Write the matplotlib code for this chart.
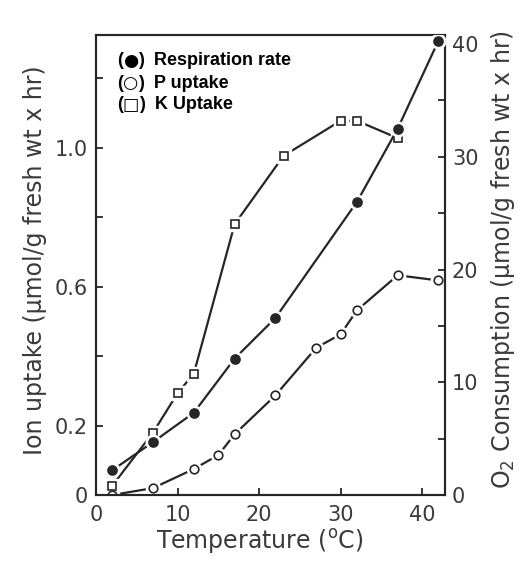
import matplotlib
matplotlib.use("Agg")
import matplotlib.pyplot as plt

resp_temp = [2, 7, 12, 17, 22, 32, 37, 42]
resp_rate = [2.2, 4.7, 7.3, 12.1, 15.7, 26.0, 32.5, 40.3]  # O2 consumption, right axis

p_temp = [2, 7, 12, 15, 17, 22, 27, 30, 32, 37, 42]
p_uptake = [0.0, 0.02, 0.075, 0.115, 0.175, 0.287, 0.424, 0.463, 0.532, 0.633, 0.618]

k_temp = [2, 7, 10, 12, 17, 23, 30, 32, 37]
k_uptake = [0.027, 0.18, 0.293, 0.35, 0.78, 0.977, 1.078, 1.078, 1.028]

x_ticks = [0, 10, 20, 30, 40]
left_ticks = [0, 0.2, 0.4, 0.6, 0.8, 1.0, 1.2]
left_labels = ["0", "0.2", "", "0.6", "", "1.0", ""]
right_ticks = [0, 5, 10, 15, 20, 25, 30, 35, 40]
right_labels = ["0", "", "10", "", "20", "", "30", "", "40"]

legend_symbols = ["●", "○", "□"]
legend_names = ["Respiration rate", "P uptake", "K Uptake"]

INK = "#262626"
TXT = "#3a3a3a"

plt.rcParams["font.family"] = ["DejaVu Sans"]

fig = plt.figure(figsize=(5.22, 5.76), dpi=100)
ax = fig.add_axes([0.1839, 0.1406, 0.6686, 0.7986])
ax2 = ax.twinx()


def draw_series(axis, x, y, marker, filled, ms):
    axis.plot(x, y, color=INK, lw=1.6, zorder=2)
    # white halo so the line stops short of each marker
    axis.plot(x, y, ls="none", marker=marker, ms=ms + 4, mfc="white", mec="white", zorder=3)
    face = INK if filled else "white"
    axis.plot(x, y, ls="none", marker=marker, ms=ms, mfc=face, mec=INK, mew=1.2, zorder=4)


draw_series(ax, k_temp, k_uptake, "s", False, 5.8)
draw_series(ax, p_temp, p_uptake, "o", False, 6.2)
draw_series(ax2, resp_temp, resp_rate, "o", True, 6.5)

ax.set_xlim(0, 42.8)
ax.set_ylim(0, 1.325)
ax2.set_ylim(0, 40.8)

ax.set_xticks(x_ticks)
ax.set_xticklabels([str(t) for t in x_ticks])
ax.set_yticks(left_ticks)
ax.set_yticklabels(left_labels)
ax2.set_yticks(right_ticks)
ax2.set_yticklabels(right_labels)

for a in (ax, ax2):
    for s in a.spines.values():
        s.set_linewidth(1.5)
        s.set_color(INK)
ax.tick_params(axis="both", direction="in", length=5, width=1.3, color=INK,
               labelsize=15, labelcolor=TXT)
ax.tick_params(axis="x", pad=7)
ax.tick_params(axis="y", pad=6, right=False)
ax2.tick_params(axis="y", direction="in", length=5, width=1.3, color=INK,
                labelsize=15, labelcolor=TXT, pad=5)

ax.set_xlabel("Temperature ($^{\\rm o}$C)", fontsize=17, color=TXT, va="center")
ax.xaxis.set_label_coords(0.47, -0.1)
ax.set_ylabel("Ion uptake (μmol/g fresh wt x hr)", fontsize=17, color=TXT, va="center")
ax.yaxis.set_label_coords(-0.175, 0.511)
ax2.set_ylabel("O$_2$ Consumption (μmol/g fresh wt x hr)", fontsize=17, color=TXT,
               va="center", rotation=90)
ax2.yaxis.set_label_coords(1.165, 0.511)

# legend written as text: "(" + symbol + ") name"
legend_y = [0.944, 0.895, 0.848]
bold = dict(fontsize=13, fontweight="bold", family=["Liberation Sans", "DejaVu Sans"],
            color="black")
for sym, name, yy in zip(legend_symbols, legend_names, legend_y):
    t1 = ax.text(0.06, yy, "(", transform=ax.transAxes, va="center", ha="left", **bold)
    t2 = ax.annotate(sym, xy=(1, 0.5), xycoords=t1, va="center", ha="left",
                     fontsize=12.5, family="DejaVu Sans", color="black")
    ax.annotate(")  " + name, xy=(1, 0.5), xycoords=t2, va="center", ha="left", **bold)

fig.savefig("out.png", dpi=100)
